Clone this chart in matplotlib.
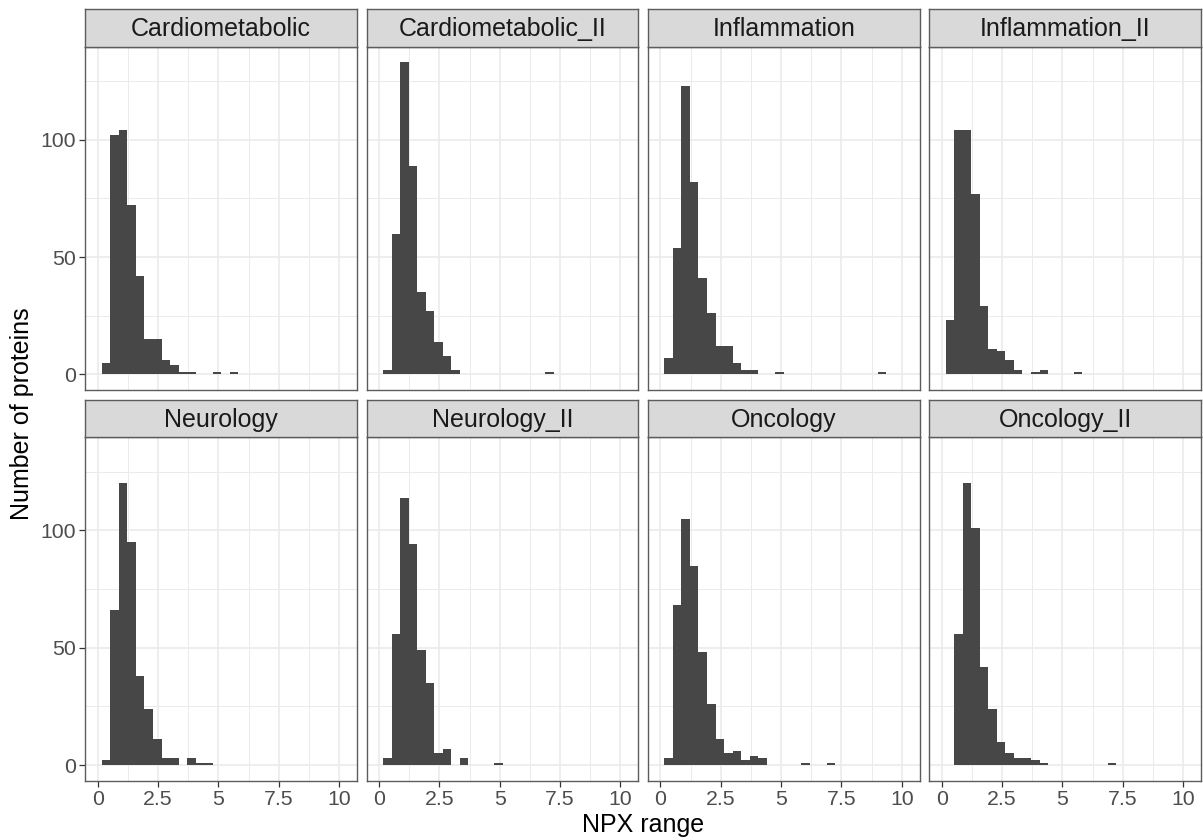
import numpy as np
import matplotlib
matplotlib.use("Agg")
import matplotlib.pyplot as plt
from matplotlib.ticker import MultipleLocator

plt.rcParams['font.family'] = ['Liberation Sans', 'DejaVu Sans']

# Olink panels (facet order)
panels = ["Cardiometabolic", "Cardiometabolic_II", "Inflammation", "Inflammation_II",
          "Neurology", "Neurology_II", "Oncology", "Oncology_II"]

# Histogram bins shared by all facets (NPX range)
bin_start = 0.16
bin_width = 0.354
n_bins = 30

# Protein counts per bin, starting at the first bin
cardiometabolic = [5, 102, 104, 72, 42, 15, 15, 6, 4, 1, 1, 0, 0, 1, 0, 1]
cardiometabolic_ii = [2, 60, 133, 89, 35, 27, 14, 8, 2, 0, 0, 0, 0, 0, 0, 0, 0, 0, 0, 1]
inflammation = [7, 54, 123, 82, 41, 26, 12, 12, 5, 2, 2, 0, 0, 1, 0, 0, 0, 0, 0, 0,
                0, 0, 0, 0, 0, 1]
inflammation_ii = [23, 104, 104, 77, 29, 11, 10, 6, 2, 0, 1, 2, 0, 0, 0, 1]
neurology = [2, 66, 120, 95, 38, 24, 11, 3, 3, 0, 3, 1, 1]
neurology_ii = [3, 56, 114, 94, 49, 35, 5, 7, 0, 3, 0, 0, 0, 1]
oncology = [3, 68, 105, 85, 48, 26, 11, 5, 6, 2, 4, 3, 0, 0, 0, 0, 1, 0, 0, 1]
oncology_ii = [0, 56, 120, 101, 42, 24, 10, 5, 3, 3, 2, 1, 0, 0, 0, 0, 0, 0, 0, 1]

counts = [cardiometabolic, cardiometabolic_ii, inflammation, inflammation_ii,
          neurology, neurology_ii, oncology, oncology_ii]

x_ticks = [0, 2.5, 5, 7.5, 10]
x_tick_labels = ["0", "2.5", "5", "7.5", "10"]
y_ticks = [0, 50, 100]

x_title = "NPX range"
y_title = "Number of proteins"

# ---- layout (pixels) ----
W, H = 1203, 840
fig = plt.figure(figsize=(W / 100, H / 100), dpi=100)
fig.patch.set_facecolor("white")

left0 = 85.3
pw = 271.7
gap = 9.6
rows = [(9.0, 46.7, 390.0), (400.0, 437.3, 780.7)]  # strip top, panel top, panel bottom

bar_color = "#474747"
grid_color = "#EBEBEB"
border_color = "#5c5c5c"
tick_color = "#333333"
label_color = "#4D4D4D"

edges = bin_start + bin_width * np.arange(n_bins + 1)
ymax = max(max(c) for c in counts)
ylim = (-0.05 * ymax, 1.05 * ymax)
xlim = (-0.52, 10.74)

for i, (name, cnt) in enumerate(zip(panels, counts)):
    r, c = divmod(i, 4)
    st, pt, pb = rows[r]
    x0 = left0 + c * (pw + gap)

    ax = fig.add_axes([x0 / W, 1 - pb / H, pw / W, (pb - pt) / H])
    cnt = np.array(cnt + [0] * (n_bins - len(cnt)))
    nz = cnt > 0
    ax.bar(edges[:-1][nz], cnt[nz], width=bin_width, align="edge",
           color=bar_color, linewidth=0, zorder=2)

    ax.set_xlim(*xlim)
    ax.set_ylim(*ylim)
    ax.set_xticks(x_ticks)
    ax.set_xticklabels(x_tick_labels)
    ax.set_yticks(y_ticks)
    ax.xaxis.set_minor_locator(MultipleLocator(1.25))
    ax.yaxis.set_minor_locator(MultipleLocator(25))
    ax.set_axisbelow(True)
    ax.grid(which="major", color=grid_color, linewidth=1.2, zorder=0)
    ax.grid(which="minor", color=grid_color, linewidth=0.7, zorder=0)

    for sp in ax.spines.values():
        sp.set_color(border_color)
        sp.set_linewidth(1.0)
        sp.set_zorder(3)

    ax.tick_params(which="minor", length=0)
    ax.tick_params(axis="both", which="major", color=tick_color, width=0.9,
                   length=4, labelcolor=label_color, labelsize=15.3)
    ax.tick_params(axis="x", pad=2.5)
    ax.tick_params(axis="y", pad=2.7)
    if c != 0:
        ax.tick_params(axis="y", left=False, labelleft=False)
    if r != 1:
        ax.tick_params(axis="x", bottom=False, labelbottom=False)

    # facet strip
    sax = fig.add_axes([x0 / W, 1 - pt / H, pw / W, (pt - st) / H])
    sax.set_facecolor("#D9D9D9")
    sax.set_xticks([])
    sax.set_yticks([])
    for sp in sax.spines.values():
        sp.set_color(border_color)
        sp.set_linewidth(1.0)
    sax.text(0.5, 0.47, name, transform=sax.transAxes, ha="center", va="center",
             fontsize=18, color="#1A1A1A")

# axis titles
fig.text((left0 + (left0 + 4 * pw + 3 * gap)) / 2 / W, 1 - 825 / H, x_title,
         ha="center", va="center", fontsize=18, color="black")
fig.text(22.5 / W, 1 - 413.7 / H, y_title, ha="center", va="center",
         rotation=90, fontsize=18, color="black")

fig.savefig("out.png", dpi=100, facecolor="white")
